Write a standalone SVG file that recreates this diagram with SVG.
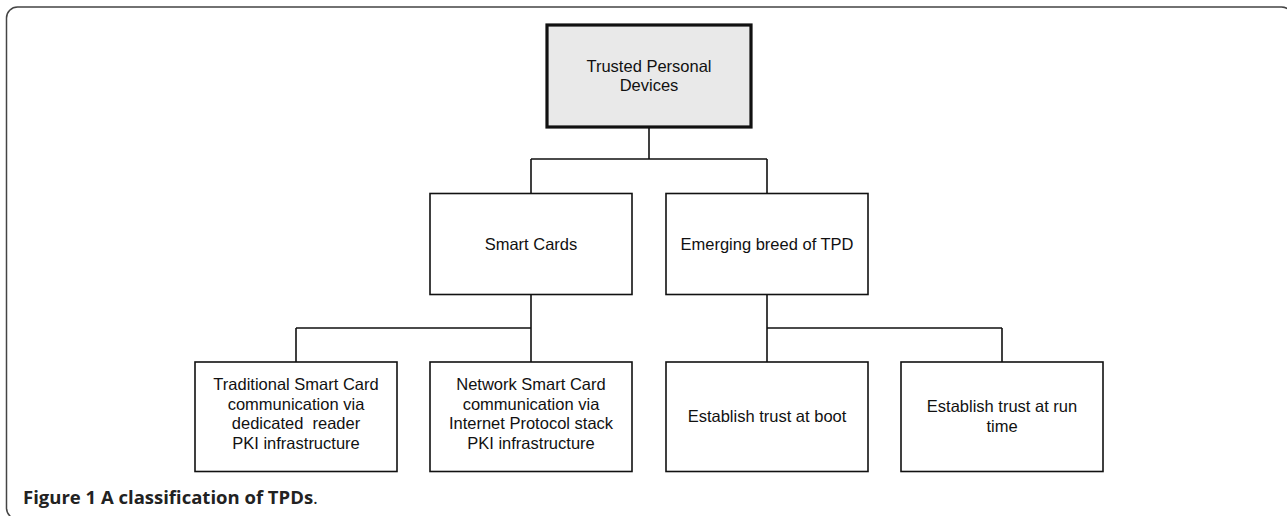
<svg xmlns="http://www.w3.org/2000/svg" width="1287" height="516" viewBox="0 0 1287 516">
<style>
.box{fill:#fff;stroke:#111;stroke-width:1.6}
.root{fill:#e9e9e9;stroke:#111;stroke-width:3.2}
.lbl{font-family:"Liberation Sans",Arial,sans-serif;font-size:16.5px;fill:#111;text-anchor:middle}
.conn{fill:none;stroke:#111;stroke-width:1.6}
.cap{font-family:"Open Sans","Liberation Sans",sans-serif;font-size:18.5px;fill:#222}
</style>
<rect x="0" y="0" width="1287" height="516" fill="#fff"/>
<rect x="6.5" y="7" width="1286" height="512" rx="11" ry="11" fill="none" stroke="#444" stroke-width="1.5"/>
<g id="connectors">
<path class="conn" d="M649 127V159M531 159H767M531 159V193M767 159V193"/>
<path class="conn" d="M531 294V362M296 328H531M296 328V362"/>
<path class="conn" d="M767 294V362M767 328H1002M1002 328V362"/>
</g>
<g id="n-root">
<rect class="root" x="547" y="25" width="204" height="102"/>
<text class="lbl" x="649" y="72">Trusted Personal</text>
<text class="lbl" x="649" y="91">Devices</text>
</g>
<g id="n-smart">
<rect class="box" x="430" y="193.5" width="202" height="101"/>
<text class="lbl" x="531" y="250">Smart Cards</text>
</g>
<g id="n-emerging">
<rect class="box" x="666" y="193.5" width="202" height="101"/>
<text class="lbl" x="767" y="250">Emerging breed of TPD</text>
</g>
<g id="n-traditional">
<rect class="box" x="195" y="362" width="202" height="109.5"/>
<text class="lbl" x="296" y="390">Traditional Smart Card</text>
<text class="lbl" x="296" y="409.5">communication via</text>
<text class="lbl" x="296" y="429" xml:space="preserve">dedicated  reader</text>
<text class="lbl" x="296" y="448.5">PKI infrastructure</text>
</g>
<g id="n-network">
<rect class="box" x="430" y="362" width="202" height="109.5"/>
<text class="lbl" x="531" y="390">Network Smart Card</text>
<text class="lbl" x="531" y="409.5">communication via</text>
<text class="lbl" x="531" y="429">Internet Protocol stack</text>
<text class="lbl" x="531" y="448.5">PKI infrastructure</text>
</g>
<g id="n-boot">
<rect class="box" x="666" y="362" width="202" height="109.5"/>
<text class="lbl" x="767" y="422">Establish trust at boot</text>
</g>
<g id="n-runtime">
<rect class="box" x="901" y="362" width="202" height="109.5"/>
<text class="lbl" x="1002" y="412">Establish trust at run</text>
<text class="lbl" x="1002" y="432">time</text>
</g>
<text class="cap" x="23" y="504"><tspan font-weight="bold">Figure 1 A classification of TPDs</tspan>.</text>
</svg>
